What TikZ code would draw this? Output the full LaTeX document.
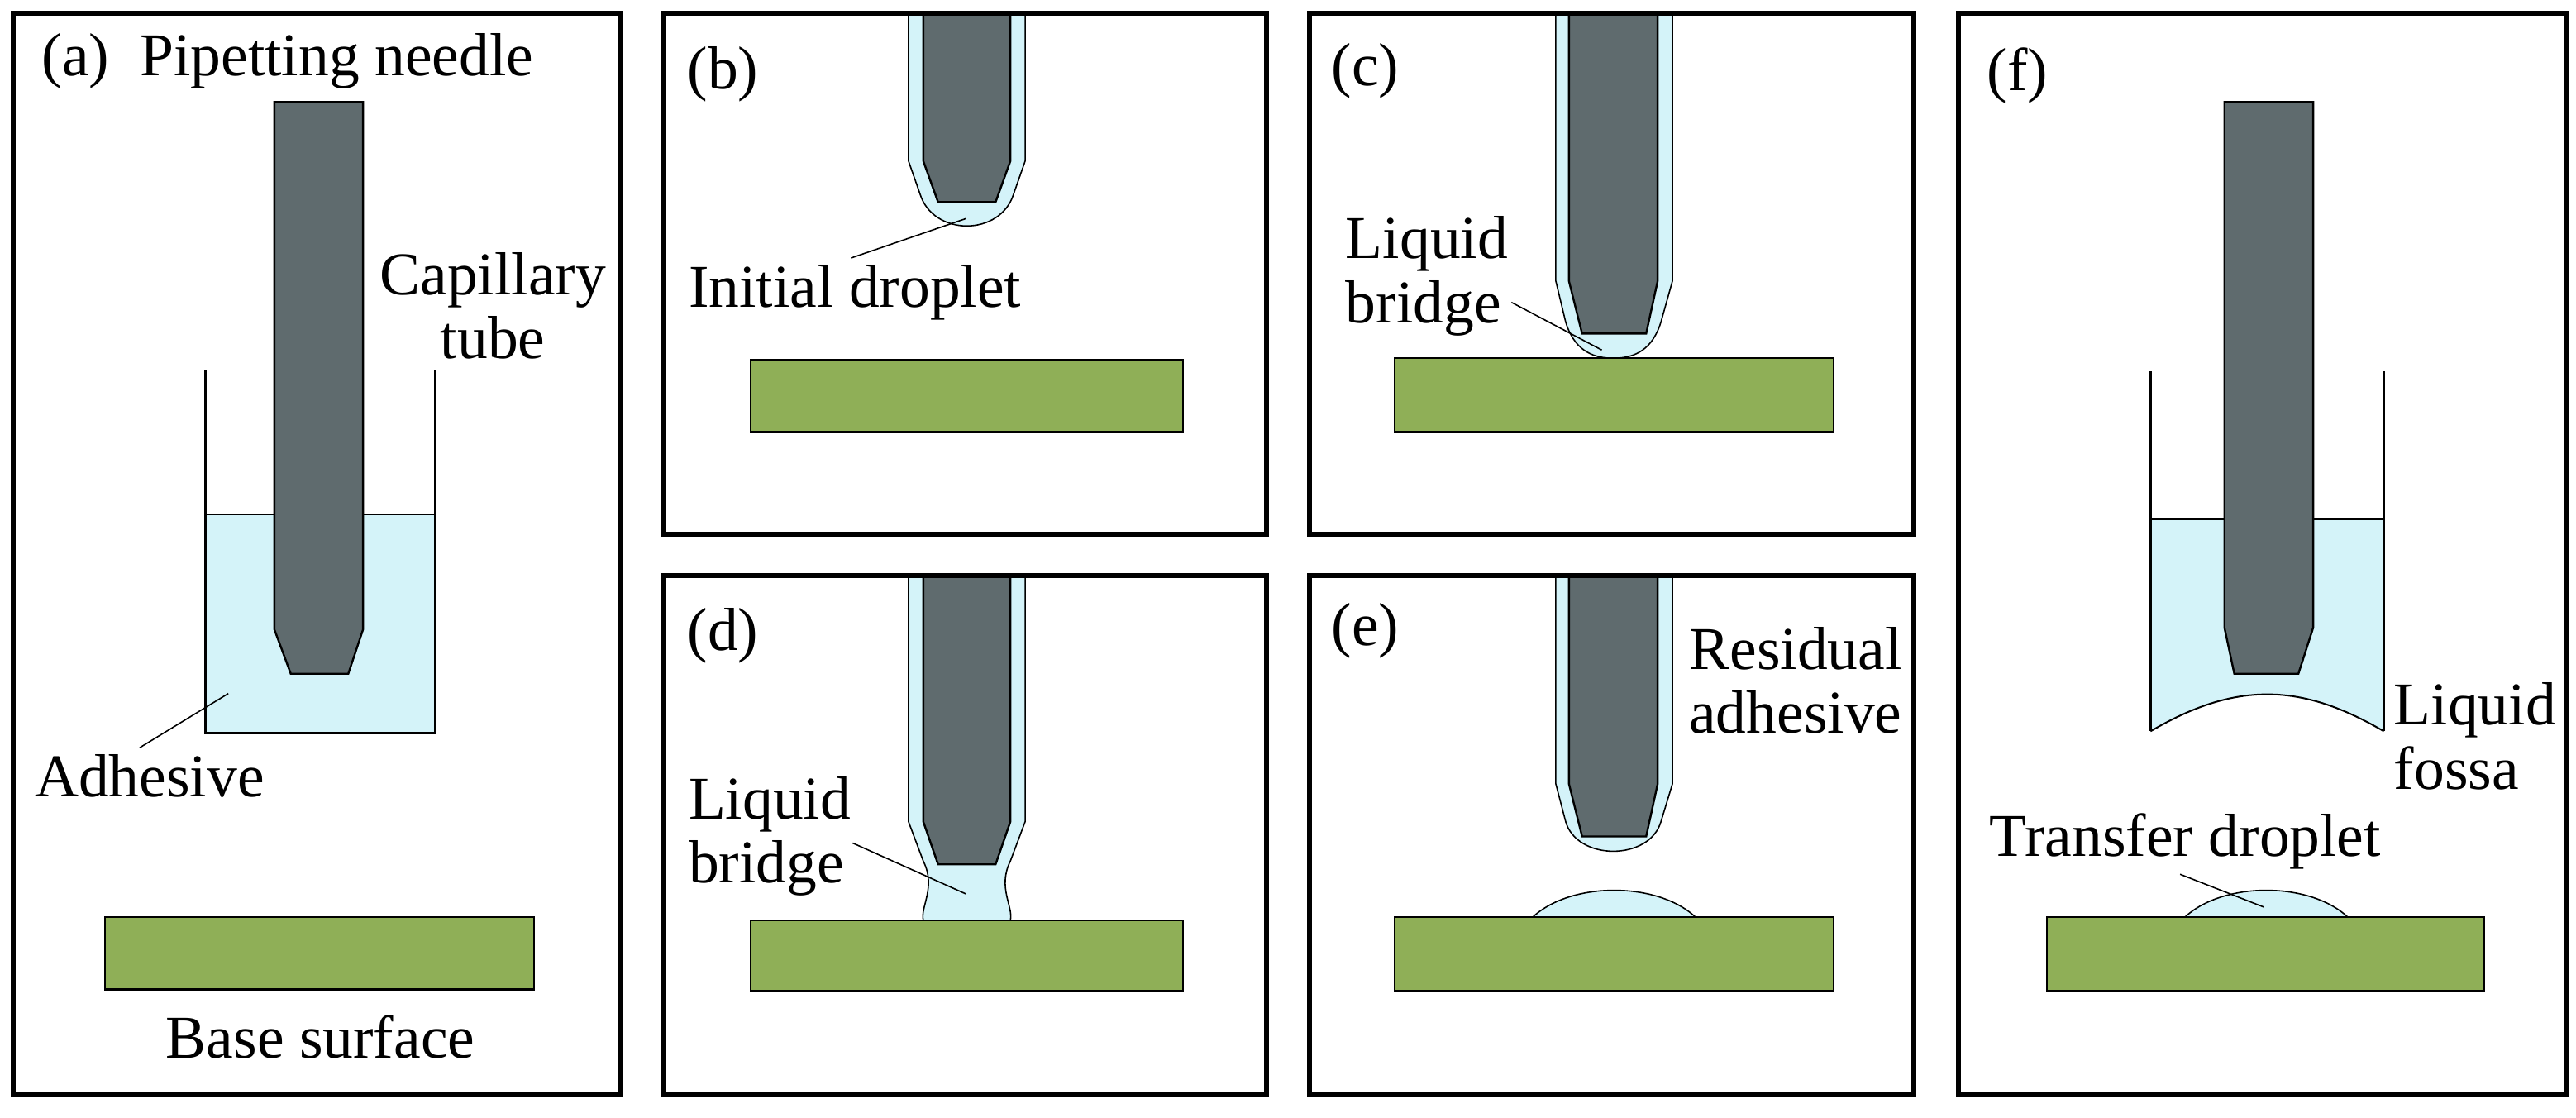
\documentclass[tikz,border=0pt]{standalone}
\usepackage{fontspec}
\setmainfont{Liberation Serif}
\begin{document}
\begin{tikzpicture}[x=1pt,y=-1pt,
  frame/.style={line width=3pt},
  ndl/.style={fill=needle,draw=black,line width=1.2pt},
  liq/.style={fill=liquid,draw=black,line width=0.8pt},
  base/.style={fill=basegreen,draw=black,line width=1.2pt},
  wall/.style={line width=1.2pt},
  lbl/.style={font=\fontsize{37}{39}\selectfont,inner sep=0pt,align=center},
  lead/.style={line width=0.8pt}]
\definecolor{needle}{HTML}{5F6B6E}
\definecolor{liquid}{HTML}{D4F3F9}
\definecolor{basegreen}{HTML}{8FAF57}
\useasboundingbox (0,0) rectangle (1568,680);
% ---------- (a)
\fill[liquid] (125,313) rectangle (265,446);
\draw[line width=0.8pt] (125,313)--(265,313);
\draw[wall] (125,225)--(125,446)--(265,446)--(265,225);
\draw[ndl] (167,62)--(167,383)--(177,410)--(212,410)--(221,383)--(221,62)--cycle;
\node[base,minimum width=261pt,minimum height=44pt,inner sep=0pt] (ba) at (194.5,580) {};
\node[lbl] (ta) at (46,37) {(a)};
\node[lbl,anchor=west] (tpn) at (85,37) {Pipetting needle};
\node[lbl] (tcap) at (300,186) {Capillary\\tube};
\node[lbl,anchor=west] (tadh) at (21,472) {Adhesive};
\coordinate (padh) at (139,422);
\draw[lead] (85,455)--(padh);
\node[lbl] (tbs) at (195,631) {Base surface};
\node[frame,draw,minimum width=370pt,minimum height=658pt,inner sep=0pt] (fa) at (193,337) {};
% ---------- (b)
\draw[liq] (553,8)--(553,98)--(560,118) .. controls (568,144) and (609,144) .. (617,118)--(624,98)--(624,8);
\draw[ndl] (562,8)--(562,98)--(571,123)--(606,123)--(615,98)--(615,8)--cycle;
\node[base,minimum width=263pt,minimum height=44pt,inner sep=0pt] (bb) at (588.5,241) {};
\node[lbl] (tb) at (440,45) {(b)};
\node[lbl,anchor=west] (tid) at (419,178) {Initial droplet};
\coordinate (pid) at (588,133);
\draw[lead] (518,157)--(pid);
\node[frame,draw,minimum width=367pt,minimum height=317pt,inner sep=0pt] (fb) at (587.5,166.5) {};
% ---------- (c)
\draw[liq] (947,8)--(947,171)--(953,196) .. controls (958,212) and (968,218) .. (982,218) .. controls (996,218) and (1006,212) .. (1011,196)--(1018,171)--(1018,8);
\draw[ndl] (955,8)--(955,171)--(963,203)--(1002,203)--(1009,171)--(1009,8)--cycle;
\node[base,minimum width=267pt,minimum height=45pt,inner sep=0pt] (bc) at (982.5,240.5) {};
\node[lbl] (tc) at (831,43) {(c)};
\node[lbl,anchor=west,align=left] (tlb1) at (819,168) {Liquid\\bridge};
\coordinate (plb1) at (975,213);
\draw[lead] (920,184)--(plb1);
\node[frame,draw,minimum width=368pt,minimum height=317pt,inner sep=0pt] (fc) at (981,166.5) {};
% ---------- (d)
\draw[liq] (553,350)--(553,500)--(562,524) .. controls (570,540) and (560,552) .. (562,560)--(615,560) .. controls (617,552) and (607,540) .. (615,524)--(624,500)--(624,350);
\draw[ndl] (562,350)--(562,500)--(571,526)--(606,526)--(615,500)--(615,350)--cycle;
\node[base,minimum width=263pt,minimum height=43pt,inner sep=0pt] (bd) at (588.5,581.5) {};
\node[lbl] (td) at (440,387) {(d)};
\node[lbl,anchor=west,align=left] (tlb2) at (419,509) {Liquid\\bridge};
\coordinate (plb2) at (588,544);
\draw[lead] (519,513)--(plb2);
\node[frame,draw,minimum width=367pt,minimum height=316pt,inner sep=0pt] (fd) at (587.5,508) {};
% ---------- (e)
\draw[liq] (947,350)--(947,477)--(953,500) .. controls (960,524) and (1004,524) .. (1011,500)--(1018,477)--(1018,350);
\draw[ndl] (955,350)--(955,477)--(963,509)--(1002,509)--(1009,477)--(1009,350)--cycle;
\draw[liq] (932,559) .. controls (955,536) and (1010,536) .. (1033,559);
\node[base,minimum width=267pt,minimum height=45pt,inner sep=0pt] (be) at (982.5,580.5) {};
\node[lbl] (te) at (831,384) {(e)};
\node[lbl,anchor=west,align=left] (tres) at (1028,414) {Residual\\adhesive};
\node[frame,draw,minimum width=368pt,minimum height=316pt,inner sep=0pt] (fe) at (981,508) {};
% ---------- (f)
\fill[liquid] (1309,316)--(1309,445) .. controls (1360,415) and (1400,415) .. (1451,445)--(1451,316)--cycle;
\draw[line width=0.8pt] (1309,316)--(1451,316);
\draw[line width=1pt] (1309,445) .. controls (1360,415) and (1400,415) .. (1451,445);
\draw[wall] (1309,226)--(1309,445) (1451,226)--(1451,445);
\draw[ndl] (1354,62)--(1354,382)--(1360,410)--(1399,410)--(1408,382)--(1408,62)--cycle;
\draw[liq] (1329,559) .. controls (1352,536) and (1407,536) .. (1430,559);
\node[base,minimum width=266pt,minimum height=45pt,inner sep=0pt] (bf) at (1379,580.5) {};
\node[lbl] (tf) at (1228,46) {(f)};
\node[lbl,anchor=west,align=left] (tlf) at (1457,448) {Liquid\\fossa};
\node[lbl,anchor=west] (ttd) at (1211,512) {Transfer droplet};
\coordinate (ptd) at (1378,552);
\draw[lead] (1327,532)--(ptd);
\node[frame,draw,minimum width=370pt,minimum height=658pt,inner sep=0pt] (ff) at (1377,337) {};
\end{tikzpicture}
\end{document}
